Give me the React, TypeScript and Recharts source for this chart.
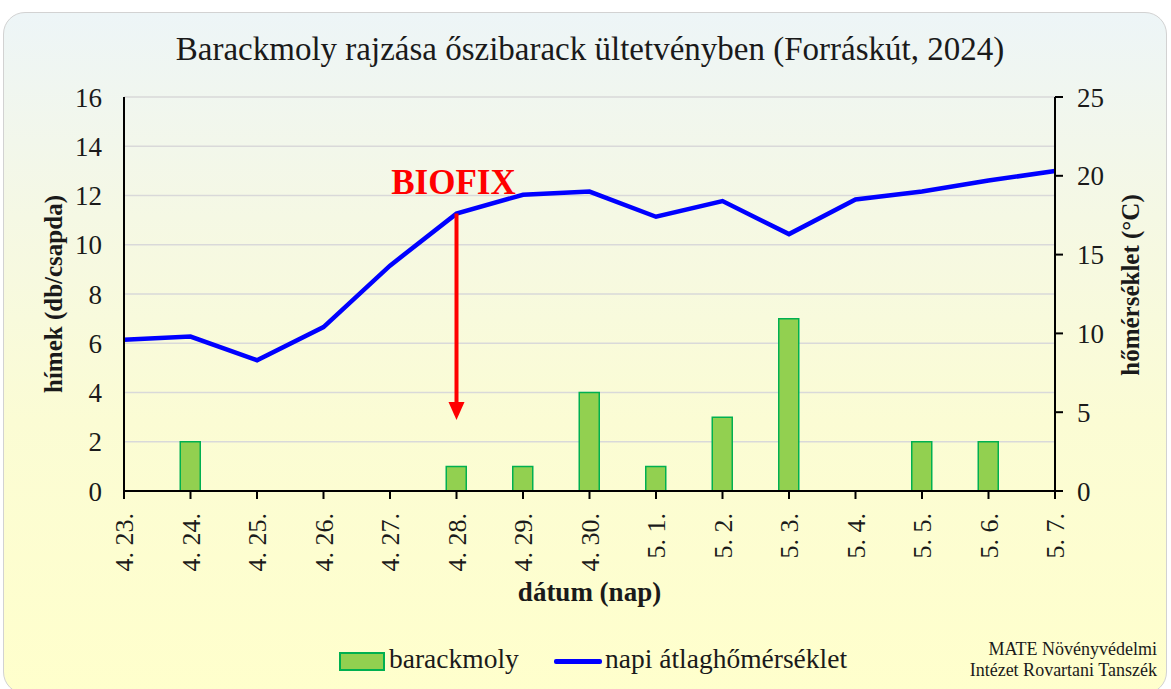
import { ComposedChart, Bar, Line, XAxis, YAxis, CartesianGrid, ReferenceLine } from 'recharts'

const dates = ['4. 23.', '4. 24.', '4. 25.', '4. 26.', '4. 27.', '4. 28.', '4. 29.', '4. 30.', '5. 1.', '5. 2.', '5. 3.', '5. 4.', '5. 5.', '5. 6.', '5. 7.']
const moths = [0, 2, 0, 0, 0, 1, 1, 4, 1, 3, 7, 0, 2, 2, 0]
const temps = [9.6, 9.8, 8.3, 10.4, 14.3, 17.6, 18.8, 19.0, 17.4, 18.4, 16.3, 18.5, 19.0, 19.7, 20.3]
const leftTicks = [0, 2, 4, 6, 8, 10, 12, 14, 16]
const rightTicks = [0, 5, 10, 15, 20, 25]
const xTicks = dates.map((_, i) => i)
const biofixIndex = 5
const biofixArrowEnd = 4.5

const data = dates.map((d, i) => ({ x: i, date: d, barackmoly: moths[i], temp: temps[i] }))

const FONT = '"Liberation Serif", "Times New Roman", serif'

function DateTick({ x, y, payload }: any) {
  return (
    <text
      transform={`translate(${x},${y + 12}) rotate(-90)`}
      textAnchor="end"
      dy="0.35em"
      fontSize={26}
      fontFamily={FONT}
      fill="#1a1a1a"
    >
      {dates[payload.value]}
    </text>
  )
}

function BiofixArrow(props: any) {
  const { x1, y1, y2 } = props
  const head = 18
  return (
    <g>
      <text x={x1 - 3} y={y1 - 20} textAnchor="middle" fontSize={35} fontWeight="bold" fontFamily={FONT} fill="#ff0000">
        BIOFIX
      </text>
      <line x1={x1} y1={y1} x2={x1} y2={y2 - head} stroke="#ff0000" strokeWidth={4} />
      <polygon points={`${x1 - 8},${y2 - head} ${x1 + 8},${y2 - head} ${x1},${y2}`} fill="#ff0000" />
    </g>
  )
}

export default function App() {
  return (
    <div style={{ position: 'absolute', left: 0, top: 0, width: 1171, height: 689, overflow: 'hidden', background: '#fff', fontFamily: FONT }}>
      <div style={{
        position: 'absolute', left: 3, top: 12, width: 1162, height: 680,
        border: '1.5px solid #d2d2d2', borderRadius: 22,
        background: 'linear-gradient(180deg, #edf5f7 0%, #f5f8e4 30%, #fbfcd4 60%, #ffffcc 100%)',
      }} />
      <div style={{ position: 'absolute', left: 0, width: 1180, top: 30, textAlign: 'center', fontSize: 33, lineHeight: '38px', color: '#1a1a1a' }}>
        Barackmoly rajzása őszibarack ültetvényben (Forráskút, 2024)
      </div>

      <div style={{ position: 'absolute', left: 0, top: 0 }}>
        <ComposedChart width={1171} height={689} data={data} margin={{ top: 97, right: 0, bottom: 0, left: 0 }}>
          <CartesianGrid yAxisId="left" vertical={false} stroke="#d9d9d9" strokeWidth={1.5} />
          <XAxis
            dataKey="x"
            type="number"
            domain={[0, 14]}
            ticks={xTicks}
            interval={0}
            height={198}
            tick={<DateTick />}
            tickSize={8}
            tickLine={{ stroke: '#000', strokeWidth: 2 }}
            axisLine={{ stroke: '#000', strokeWidth: 2 }}
            label={({ viewBox }: any) => (
              <text x={viewBox.x + viewBox.width / 2} y={viewBox.y + 110} textAnchor="middle" fontSize={27} fontWeight="bold" fontFamily={FONT} fill="#1a1a1a">
                dátum (nap)
              </text>
            )}
          />
          <YAxis
            yAxisId="left"
            width={124}
            domain={[0, 16]}
            ticks={leftTicks}
            tickLine={false}
            tickSize={0}
            tickMargin={22}
            tick={{ fontSize: 27, fill: '#1a1a1a', fontFamily: FONT }}
            axisLine={{ stroke: '#000', strokeWidth: 2 }}
            label={({ viewBox }: any) => (
              <text transform={`translate(${53},${viewBox.y + viewBox.height / 2}) rotate(-90)`} textAnchor="middle" dy="0.35em" fontSize={25} fontWeight="bold" fontFamily={FONT} fill="#1a1a1a">
                hímek (db/csapda)
              </text>
            )}
          />
          <YAxis
            yAxisId="right"
            orientation="right"
            width={116}
            domain={[0, 25]}
            ticks={rightTicks}
            tickSize={8}
            tickMargin={14}
            tickLine={{ stroke: '#000', strokeWidth: 2 }}
            tick={{ fontSize: 27, fill: '#1a1a1a', fontFamily: FONT }}
            axisLine={{ stroke: '#000', strokeWidth: 2 }}
            label={({ viewBox }: any) => (
              <text transform={`translate(${1130},${viewBox.y + viewBox.height / 2 - 9}) rotate(-90)`} textAnchor="middle" dy="0.35em" fontSize={25} fontWeight="bold" fontFamily={FONT} fill="#1a1a1a">
                hőmérséklet (°C)
              </text>
            )}
          />
          <Bar yAxisId="left" dataKey="barackmoly" barSize={20} fill="#92d050" stroke="#00b050" strokeWidth={1.5} isAnimationActive={false} />
          <Line yAxisId="right" dataKey="temp" type="linear" stroke="#0000ff" strokeWidth={4.5} dot={false} activeDot={false} isAnimationActive={false} />
          <ReferenceLine
            yAxisId="right"
            segment={[{ x: biofixIndex, y: temps[biofixIndex] }, { x: biofixIndex, y: biofixArrowEnd }]}
            shape={<BiofixArrow />}
          />
        </ComposedChart>
      </div>

      <div style={{ position: 'absolute', left: 339, top: 652, width: 42, height: 15, background: '#92d050', border: '2px solid #00b050' }} />
      <div style={{ position: 'absolute', left: 389, top: 643, fontSize: 27.5, color: '#1a1a1a', lineHeight: '32px' }}>barackmoly</div>
      <div style={{ position: 'absolute', left: 554, top: 659, width: 48, height: 5, background: '#0000ff', borderRadius: 2 }} />
      <div style={{ position: 'absolute', left: 605, top: 643, fontSize: 27.5, color: '#1a1a1a', lineHeight: '32px' }}>napi átlaghőmérséklet</div>

      <div style={{ position: 'absolute', right: 14, top: 639, textAlign: 'right', fontSize: 18, lineHeight: '21px', color: '#1a1a1a' }}>
        MATE Növényvédelmi<br />Intézet Rovartani Tanszék
      </div>
    </div>
  )
}
